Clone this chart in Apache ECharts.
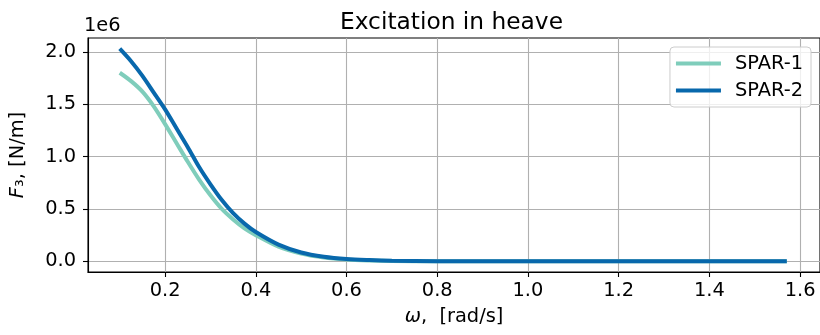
<!DOCTYPE html>
<html>
<head>
<meta charset="utf-8">
<script src="https://cdn.jsdelivr.net/npm/echarts@6/dist/echarts.min.js"></script>
<style>
  html, body { margin: 0; padding: 0; background: #fff; }
  #chart { width: 820px; height: 335px; }
</style>
</head>
<body>
<div id="chart"></div>
<script>
// omega [rad/s] and heave excitation, in units of 1e6 N/m
const omega = [0.1, 0.125, 0.15, 0.175, 0.2, 0.225, 0.25, 0.275, 0.3, 0.325, 0.35, 0.375, 0.4,
  0.45, 0.5, 0.55, 0.6, 0.65, 0.7,
  0.8, 0.9, 1.0, 1.1, 1.2, 1.3, 1.4, 1.5, 1.5708];
const spar1 = [1.80, 1.72, 1.62, 1.48, 1.31, 1.13, 0.95, 0.78, 0.63, 0.50, 0.40, 0.315, 0.25,
  0.14, 0.075, 0.037, 0.018, 0.009, 0.004,
  0.001, 0, 0, 0, 0, 0, 0, 0, 0];
const spar2 = [2.03, 1.91, 1.77, 1.61, 1.45, 1.27, 1.09, 0.90, 0.735, 0.585, 0.46, 0.36, 0.28,
  0.16, 0.085, 0.044, 0.022, 0.012, 0.006,
  0.002, 0.0005, 0, 0, 0, 0, 0, 0, 0];
const xTicks = [0.2, 0.4, 0.6, 0.8, 1.0, 1.2, 1.4, 1.6];
const yTicks = [0, 0.5, 1.0, 1.5, 2.0];

const FONT = 'DejaVu Sans';
const chart = echarts.init(document.getElementById('chart'));

const pairs = (ys) => omega.map((w, i) => [w, ys[i]]);

const axisCommon = {
  type: 'value',
  axisLine: { show: true, onZero: false, lineStyle: { color: '#000', width: 1.1 } },
  axisTick: { show: true, length: 5, lineStyle: { color: '#000', width: 1.1 } },
  splitLine: { show: true, lineStyle: { color: '#b0b0b0', width: 1.1 } },
};

const option = {
  animation: false,
  title: {
    text: 'Excitation in heave',
    left: 335,
    top: 6,
    textStyle: { fontFamily: FONT, fontSize: 23.3, fontWeight: 'normal', color: '#000' }
  },
  graphic: [
    {
      type: 'text', left: 84, top: 16,
      style: { text: '1e6', fontFamily: FONT, fontSize: 19.4, fill: '#000' }
    }
  ],
  grid: {
    left: 86, right: -1, top: 38, bottom: 63,
    show: true, borderColor: '#000', borderWidth: 1.1
  },
  legend: {
    orient: 'vertical',
    right: 9,
    top: 47,
    icon: 'rect',
    itemWidth: 45,
    itemHeight: 4,
    itemGap: 8,
    padding: [7, 8, 7, 6],
    backgroundColor: 'rgba(255,255,255,0.8)',
    borderColor: '#cccccc',
    borderWidth: 1,
    borderRadius: 4,
    textStyle: { fontFamily: FONT, fontSize: 19.4, color: '#000', padding: [0, 0, 0, 9] },
    data: ['SPAR-1', 'SPAR-2']
  },
  xAxis: Object.assign({}, axisCommon, {
    min: 0.03,
    max: 1.644,
    splitNumber: 8,
    axisTick: Object.assign({}, axisCommon.axisTick, { customValues: xTicks }),
    axisLabel: {
      customValues: xTicks,
      margin: 9,
      fontFamily: FONT, fontSize: 19.4, color: '#000',
      formatter: (v) => v.toFixed(1)
    },
    name: '{it|ω}{n|,  [rad/s]}',
    nameLocation: 'middle',
    nameGap: 35,
    nameTextStyle: {
      rich: {
        it: { fontFamily: FONT, fontSize: 19.4, fontStyle: 'italic', color: '#000' },
        n: { fontFamily: FONT, fontSize: 19.4, color: '#000' }
      }
    }
  }),
  yAxis: Object.assign({}, axisCommon, {
    min: -0.1015,
    max: 2.1315,
    splitNumber: 5,
    axisTick: Object.assign({}, axisCommon.axisTick, { customValues: yTicks }),
    axisLabel: {
      customValues: yTicks,
      margin: 12,
      fontFamily: FONT, fontSize: 19.4, color: '#000',
      formatter: (v) => v.toFixed(1)
    },
    name: '{it|F}{n|₃, [N/m]}',
    nameLocation: 'middle',
    nameRotate: 90,
    nameGap: 61,
    nameTextStyle: {
      rich: {
        it: { fontFamily: FONT, fontSize: 19.4, fontStyle: 'italic', color: '#000' },
        n: { fontFamily: FONT, fontSize: 19.4, color: '#000' }
      }
    }
  }),
  series: [
    {
      name: 'SPAR-1',
      type: 'line',
      data: pairs(spar1),
      symbol: 'none',
      smooth: 0.3,
      color: '#7fcdbb',
      lineStyle: { width: 4, color: '#7fcdbb' }
    },
    {
      name: 'SPAR-2',
      type: 'line',
      data: pairs(spar2),
      symbol: 'none',
      smooth: 0.3,
      color: '#0868ac',
      lineStyle: { width: 4, color: '#0868ac' }
    }
  ]
};

chart.setOption(option);
</script>
</body>
</html>
